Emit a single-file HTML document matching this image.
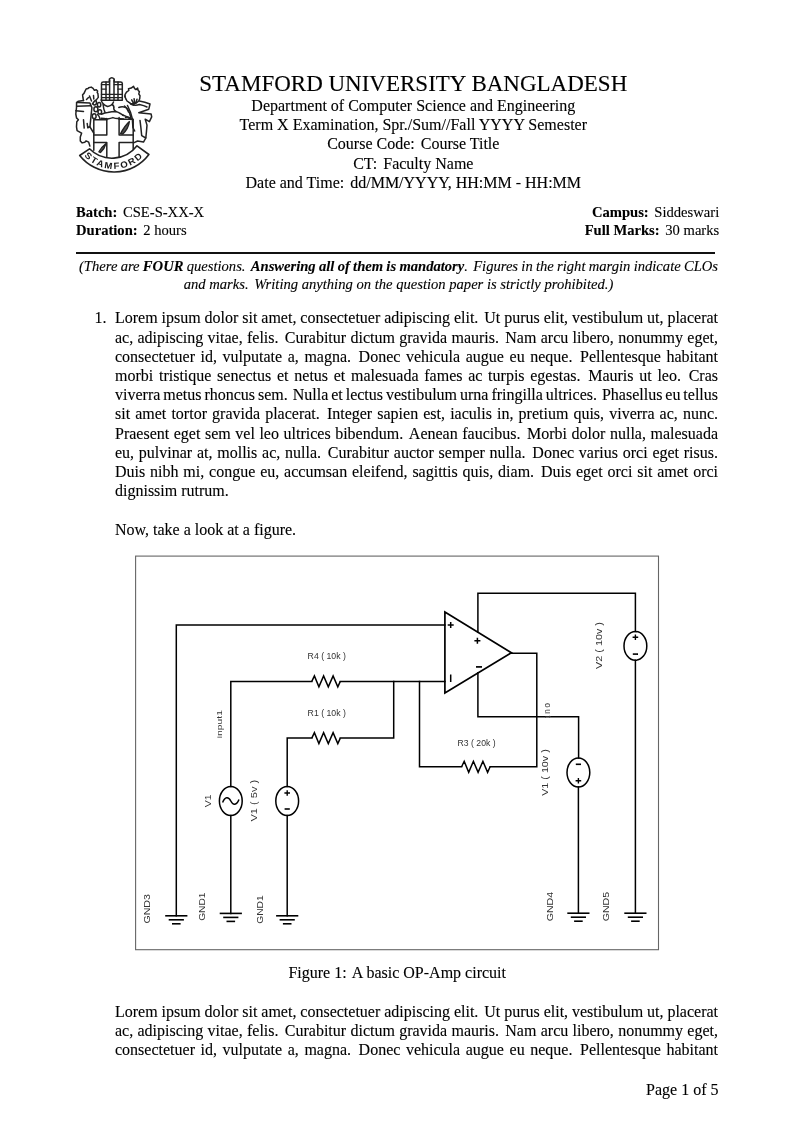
<!DOCTYPE html>
<html>
<head>
<meta charset="utf-8">
<style>
html,body{margin:0;padding:0;background:#fff;}
body{width:794px;height:1123px;position:relative;overflow:hidden;color:#000;-webkit-text-stroke:0.12px #000;font-family:"Liberation Serif",serif;}
.t{position:absolute;white-space:nowrap;font-size:16px;line-height:20px;height:20px;}
.c{text-align:center;}
.s{font-size:14.6px;line-height:18px;height:18px;}
.i{font-style:italic;}
.e{display:inline-block;width:2.0px;}
.k{display:inline-block;width:2px;}
svg{position:absolute;left:0;top:0;will-change:transform;-webkit-text-stroke:0;}
</style>
</head>
<body>
<div id="wrap" style="position:absolute;left:0;top:0;width:794px;height:1123px;will-change:transform;">
<div class="t" style="left:115px;top:308.30px;word-spacing:-0.083px">Lorem ipsum dolor sit amet, consectetuer adipiscing elit.<span class="e"></span> Ut purus elit, vestibulum ut, placerat</div>
<div class="t" style="left:115px;top:327.50px;word-spacing:0.301px">ac, adipiscing vitae, felis.<span class="e"></span> Curabitur dictum gravida mauris.<span class="e"></span> Nam arcu libero, nonummy eget,</div>
<div class="t" style="left:115px;top:346.70px;word-spacing:1.585px">consectetuer id, vulputate a, magna.<span class="e"></span> Donec vehicula augue eu neque.<span class="e"></span> Pellentesque habitant</div>
<div class="t" style="left:115px;top:365.90px;word-spacing:1.717px">morbi tristique senectus et netus et malesuada fames ac turpis egestas.<span class="e"></span> Mauris ut leo.<span class="e"></span> Cras</div>
<div class="t" style="left:115px;top:385.10px;word-spacing:-1.059px">viverra metus rhoncus sem.<span class="e"></span> Nulla et lectus vestibulum urna fringilla ultrices.<span class="e"></span> Phasellus eu tellus</div>
<div class="t" style="left:115px;top:404.40px;word-spacing:1.102px">sit amet tortor gravida placerat.<span class="e"></span> Integer sapien est, iaculis in, pretium quis, viverra ac, nunc.</div>
<div class="t" style="left:115px;top:423.60px;word-spacing:0.559px">Praesent eget sem vel leo ultrices bibendum.<span class="e"></span> Aenean faucibus.<span class="e"></span> Morbi dolor nulla, malesuada</div>
<div class="t" style="left:115px;top:442.80px;word-spacing:0.766px">eu, pulvinar at, mollis ac, nulla.<span class="e"></span> Curabitur auctor semper nulla.<span class="e"></span> Donec varius orci eget risus.</div>
<div class="t" style="left:115px;top:462.00px;word-spacing:0.846px">Duis nibh mi, congue eu, accumsan eleifend, sagittis quis, diam.<span class="e"></span> Duis eget orci sit amet orci</div>
<div class="t" style="left:115px;top:481.20px;">dignissim rutrum.</div>
<div class="t" style="left:115px;top:520.20px;">Now, take a look at a figure.</div>
<div class="t" style="left:115px;top:1001.70px;word-spacing:-0.083px">Lorem ipsum dolor sit amet, consectetuer adipiscing elit.<span class="e"></span> Ut purus elit, vestibulum ut, placerat</div>
<div class="t" style="left:115px;top:1020.80px;word-spacing:0.301px">ac, adipiscing vitae, felis.<span class="e"></span> Curabitur dictum gravida mauris.<span class="e"></span> Nam arcu libero, nonummy eget,</div>
<div class="t" style="left:115px;top:1039.90px;word-spacing:1.585px">consectetuer id, vulputate a, magna.<span class="e"></span> Donec vehicula augue eu neque.<span class="e"></span> Pellentesque habitant</div>
<div class="t s i" style="left:79px;top:257.07px;word-spacing:-0.365px">(There are <b>FOUR</b> questions.<span class="e"></span> <b>Answering all of them is mandatory</b>.<span class="e"></span> Figures in the right margin indicate CLOs</div>
<div class="t s i c" style="left:79px;width:639px;top:275.07px;">and marks.<span class="e"></span> Writing anything on the question paper is strictly prohibited.)</div>
<div class="t" style="left:94.5px;top:308.30px;">1.</div>
<div class="t c" style="left:113.3px;width:600px;top:74.44px;font-size:23px;">STAMFORD UNIVERSITY BANGLADESH</div>
<div class="t c" style="left:113.3px;width:600px;top:96.00px;">Department of Computer Science and Engineering</div>
<div class="t c" style="left:113.3px;width:600px;top:115.20px;">Term X Examination, Spr./Sum//Fall YYYY Semester</div>
<div class="t c" style="left:113.3px;width:600px;top:134.40px;">Course Code:<span class="k"></span> Course Title</div>
<div class="t c" style="left:113.3px;width:600px;top:153.60px;">CT:<span class="k"></span> Faculty Name</div>
<div class="t c" style="left:113.3px;width:600px;top:172.80px;">Date and Time:<span class="k"></span> dd/MM/YYYY, HH:MM - HH:MM</div>
<div class="t s" style="left:76px;top:202.97px;"><b>Batch:</b><span class="k"></span> CSE-S-XX-X</div>
<div class="t s" style="left:76px;top:221.37px;"><b>Duration:</b><span class="k"></span> 2 hours</div>
<div class="t s" style="right:74.8px;top:202.97px;"><b>Campus:</b><span class="k"></span> Siddeswari</div>
<div class="t s" style="right:74.8px;top:221.37px;"><b>Full Marks:</b><span class="k"></span> 30 marks</div>
<div style="position:absolute;left:76px;top:252px;width:639px;height:1.6px;background:#111;"></div>
<div class="t c" style="left:97.2px;width:600px;top:962.90px;">Figure 1:<span class="k"></span> A basic OP-Amp circuit</div>
<div class="t" style="right:75.5px;top:1079.80px;">Page 1 of 5</div>
</div>
<svg width="794" height="1123" viewBox="0 0 794 1123">
<rect x="135.6" y="556.1" width="522.9" height="393.6" fill="none" stroke="#666" stroke-width="1.1"/>
<path d="M444.9 612 L511.4 652.8 L444.9 693 Z" fill="none" stroke="#000" stroke-width="1.7" stroke-linejoin="miter"/>
<path d="M176.3 915.8 L176.3 625.1 L444.9 625.1" fill="none" stroke="#000" stroke-width="1.5" stroke-linejoin="miter" stroke-linecap="square"/>
<path d="M165.2 915.8 H187.4" stroke="#000" stroke-width="1.6"/>
<path d="M168.7 919.8 H183.9" stroke="#000" stroke-width="1.6"/>
<path d="M172.0 923.8 H180.6" stroke="#000" stroke-width="1.6"/>
<path d="M230.8 786.6 L230.8 681.4 L311.8 681.4" fill="none" stroke="#000" stroke-width="1.5" stroke-linejoin="miter" stroke-linecap="square"/>
<path d="M311.8 681.4 L314.4 675.9 L318.9 686.9 L323.6 675.9 L328.3 686.9 L333.1 675.9 L337.8 686.9 L340.3 681.4" fill="none" stroke="#000" stroke-width="1.5" stroke-linejoin="miter"/>
<path d="M340.3 681.4 L444.9 681.4" fill="none" stroke="#000" stroke-width="1.5" stroke-linejoin="miter" stroke-linecap="square"/>
<path d="M230.8 815.4 L230.8 913.4" fill="none" stroke="#000" stroke-width="1.5" stroke-linejoin="miter" stroke-linecap="square"/>
<path d="M219.7 913.4 H241.9" stroke="#000" stroke-width="1.6"/>
<path d="M223.2 917.4 H238.4" stroke="#000" stroke-width="1.6"/>
<path d="M226.5 921.4 H235.1" stroke="#000" stroke-width="1.6"/>
<ellipse cx="230.8" cy="801.0" rx="11.4" ry="14.4" fill="none" stroke="#000" stroke-width="1.5"/>
<path d="M222.6 802.5 C225 796.5 228.5 796.5 230.8 801 C233 805.5 236.6 805.5 239 799.5" fill="none" stroke="#000" stroke-width="1.5"/>
<path d="M287.2 786.6 L287.2 738.1 L311.8 738.1" fill="none" stroke="#000" stroke-width="1.5" stroke-linejoin="miter" stroke-linecap="square"/>
<path d="M311.8 738.1 L314.4 732.6 L318.9 743.6 L323.6 732.6 L328.3 743.6 L333.1 732.6 L337.8 743.6 L340.3 738.1" fill="none" stroke="#000" stroke-width="1.5" stroke-linejoin="miter"/>
<path d="M340.3 738.1 L393.7 738.1 L393.7 681.4" fill="none" stroke="#000" stroke-width="1.5" stroke-linejoin="miter" stroke-linecap="square"/>
<path d="M287.2 815.4 L287.2 915.8" fill="none" stroke="#000" stroke-width="1.5" stroke-linejoin="miter" stroke-linecap="square"/>
<path d="M276.1 915.8 H298.3" stroke="#000" stroke-width="1.6"/>
<path d="M279.6 919.8 H294.8" stroke="#000" stroke-width="1.6"/>
<path d="M282.9 923.8 H291.5" stroke="#000" stroke-width="1.6"/>
<ellipse cx="287.2" cy="801.0" rx="11.4" ry="14.4" fill="none" stroke="#000" stroke-width="1.5"/>
<path d="M284.4 793.0 H290.0 M287.2 790.2 V795.8" stroke="#000" stroke-width="1.4"/>
<path d="M284.6 809.0 H289.8" stroke="#000" stroke-width="1.6"/>
<path d="M419.5 681.4 L419.5 766.8 L461.6 766.8" fill="none" stroke="#000" stroke-width="1.5" stroke-linejoin="miter" stroke-linecap="square"/>
<path d="M461.6 766.8 L464.2 761.3 L468.7 772.3 L473.4 761.3 L478.1 772.3 L482.9 761.3 L487.6 772.3 L490.1 766.8" fill="none" stroke="#000" stroke-width="1.5" stroke-linejoin="miter"/>
<path d="M490.1 766.8 L536.8 766.8 L536.8 653.3 L511.4 653.3" fill="none" stroke="#000" stroke-width="1.5" stroke-linejoin="miter" stroke-linecap="square"/>
<path d="M477.9 632.2 L477.9 593.2 L635.4 593.2 L635.4 631.5" fill="none" stroke="#000" stroke-width="1.5" stroke-linejoin="miter" stroke-linecap="square"/>
<ellipse cx="635.4" cy="645.9" rx="11.4" ry="14.4" fill="none" stroke="#000" stroke-width="1.5"/>
<path d="M632.6 637.3 H638.2 M635.4 634.5 V640.1" stroke="#000" stroke-width="1.4"/>
<path d="M632.8 654.1 H638.0" stroke="#000" stroke-width="1.6"/>
<path d="M635.4 660.3 L635.4 913.2" fill="none" stroke="#000" stroke-width="1.5" stroke-linejoin="miter" stroke-linecap="square"/>
<path d="M624.3 913.2 H646.5" stroke="#000" stroke-width="1.6"/>
<path d="M627.8 917.2 H643.0" stroke="#000" stroke-width="1.6"/>
<path d="M631.1 921.2 H639.7" stroke="#000" stroke-width="1.6"/>
<path d="M477.9 672.8 L477.9 716.8 L578.6 716.8 L578.6 758.1" fill="none" stroke="#000" stroke-width="1.5" stroke-linejoin="miter" stroke-linecap="square"/>
<ellipse cx="578.4" cy="772.5" rx="11.4" ry="14.4" fill="none" stroke="#000" stroke-width="1.5"/>
<path d="M575.8 764.3 H581.0" stroke="#000" stroke-width="1.6"/>
<path d="M575.6 780.7 H581.2 M578.4 777.9 V783.5" stroke="#000" stroke-width="1.4"/>
<path d="M578.4 786.9 L578.4 913.2" fill="none" stroke="#000" stroke-width="1.5" stroke-linejoin="miter" stroke-linecap="square"/>
<path d="M567.3 913.2 H589.5" stroke="#000" stroke-width="1.6"/>
<path d="M570.8 917.2 H586.0" stroke="#000" stroke-width="1.6"/>
<path d="M574.1 921.2 H582.7" stroke="#000" stroke-width="1.6"/>
<path d="M447.7 625.0 H453.7 M450.7 622.0 V628.0" stroke="#000" stroke-width="1.5"/>
<path d="M450.7 674.5 V682" stroke="#000" stroke-width="1.5"/>
<path d="M474.4 640.8 H480.4 M477.4 637.8 V643.8" stroke="#000" stroke-width="1.5"/>
<path d="M476.0 666.9 H482.0" stroke="#000" stroke-width="1.7"/>
<text x="307.6" y="659.4" font-family="Liberation Sans" font-size="9.4" fill="#333" textLength="38.3" lengthAdjust="spacingAndGlyphs">R4 ( 10k )</text>
<text x="307.6" y="715.8" font-family="Liberation Sans" font-size="9.4" fill="#333" textLength="38.3" lengthAdjust="spacingAndGlyphs">R1 ( 10k )</text>
<text x="457.6" y="745.9" font-family="Liberation Sans" font-size="9.4" fill="#333" textLength="38.0" lengthAdjust="spacingAndGlyphs">R3 ( 20k )</text>
<text transform="translate(222.0 738.2) rotate(-90)" font-family="Liberation Sans" font-size="8.0" fill="#333" textLength="28.2" lengthAdjust="spacingAndGlyphs">input1</text>
<text transform="translate(211.2 807.3) rotate(-90)" font-family="Liberation Sans" font-size="8.4" fill="#333" textLength="12.8" lengthAdjust="spacingAndGlyphs">V1</text>
<text transform="translate(257.3 821.6) rotate(-90)" font-family="Liberation Sans" font-size="8.4" fill="#333" textLength="41.8" lengthAdjust="spacingAndGlyphs">V1 ( 5v )</text>
<text transform="translate(602.4 668.9) rotate(-90)" font-family="Liberation Sans" font-size="8.4" fill="#333" textLength="46.8" lengthAdjust="spacingAndGlyphs">V2 ( 10v )</text>
<text transform="translate(547.9 795.8) rotate(-90)" font-family="Liberation Sans" font-size="8.4" fill="#333" textLength="46.6" lengthAdjust="spacingAndGlyphs">V1 ( 10v )</text>
<text transform="translate(150.2 923.6) rotate(-90)" font-family="Liberation Sans" font-size="8.4" fill="#333" textLength="29.5" lengthAdjust="spacingAndGlyphs">GND3</text>
<text transform="translate(204.8 920.8) rotate(-90)" font-family="Liberation Sans" font-size="8.4" fill="#333" textLength="28.2" lengthAdjust="spacingAndGlyphs">GND1</text>
<text transform="translate(262.9 923.8) rotate(-90)" font-family="Liberation Sans" font-size="8.4" fill="#333" textLength="28.4" lengthAdjust="spacingAndGlyphs">GND1</text>
<text transform="translate(553.0 921.3) rotate(-90)" font-family="Liberation Sans" font-size="8.4" fill="#333" textLength="29.5" lengthAdjust="spacingAndGlyphs">GND4</text>
<text transform="translate(609.0 921.3) rotate(-90)" font-family="Liberation Sans" font-size="8.4" fill="#333" textLength="29.5" lengthAdjust="spacingAndGlyphs">GND5</text>
<text transform="translate(545.4 702.9) rotate(90)" font-family="Liberation Sans" font-size="8.4" fill="#333" textLength="15" lengthAdjust="spacing">out</text>
</svg>
<svg width="794" height="1123" viewBox="0 0 794 1123">
<g fill="none" stroke="#222" stroke-width="1.5" stroke-linejoin="round" stroke-linecap="round">
<!-- crown / portcullis -->
<path d="M101.5 100.3 V83.5 Q101.6 81.9 103.2 81.9 H109.4 V79 Q111.8 76.4 114.2 79 V81.9 H120.6 Q122.3 81.9 122.3 83.5 V100.3 Z" fill="#fff"/>
<path d="M106 82 V100.3 M109.6 80 V100.3 M114 80 V100.3 M118 82 V100.3" stroke-width="1.5"/>
<path d="M101.5 84.6 H109.4 M114.2 84.6 H122.3 M101.5 94.4 H122.3 M101.5 97.6 H122.3" stroke-width="1.4"/>
<path d="M101.5 89.2 H106 M118 89.2 H122.3" stroke-width="1.2"/>
<!-- helmet under crown -->
<path d="M101.1 99.9 Q102 104.5 107.6 106.5 Q112.2 105.5 113.5 101.9"/>
<path d="M112.2 104.5 Q114.5 106 113.8 109 Q114.5 111 116 111.5 M103.1 104.5 Q103.5 109 105 112.4"/>
<path d="M118.8 107.5 Q122 106 126 107.5 Q128.8 109.5 129.9 114.3 L131.2 118.8 M122.7 115 Q126.5 116.5 131 118.5"/>
<path d="M124.7 96 Q126 99 126.6 99.9 Q129 102.5 133.8 105.2"/>
<!-- torse band -->
<path d="M101.5 114.2 Q105 112.6 107.6 112.4 Q112 111.6 115.5 111.4 Q118 111.8 119.4 113 Q121.5 114 123.2 115.4 M101.1 118.3 Q104 118.7 107.6 118.9 Q110.5 118.3 112.9 117.6 Q115.5 118.4 117.5 118.6 Q120.5 118.9 123.4 118.9"/>
<!-- wreath loops left -->
<ellipse cx="94.6" cy="102.6" rx="1.9" ry="2.4"/>
<ellipse cx="99.1" cy="104.7" rx="1.7" ry="2.2"/>
<ellipse cx="95.9" cy="109.3" rx="2" ry="2.5"/>
<ellipse cx="99.8" cy="111.9" rx="1.8" ry="2.2"/>
<ellipse cx="94.2" cy="116.2" rx="1.9" ry="2.4"/>
<path d="M97.5 114.5 Q99.5 116 100 119"/>
<!-- left leaf -->
<path d="M83.5 100.6 L82.9 97.5 L82.6 94.8 L84 93.4 L84.8 91.6 L86.1 89 L88 88.6 L88.7 87.8 L91.2 87.1 L93.1 88.4 L94.4 90.3 L96.3 89.7 L97.6 91 L97.2 92.6 L97.9 93.5 L98.3 97.4 L96.3 99.9 L94.4 101.2 L92.5 103.8" fill="#fff"/>
<path d="M89.5 96 L91.5 101 M86.5 99.5 L88.5 97.5 M93.5 95.5 L93.8 99"/>
<!-- left mantling -->
<path d="M83.5 100.6 L78.4 101.2 L76.6 102.5 L76.5 107.6 L75.8 114 L76.5 117.9 L78.4 119.8 L76.8 121.7 L76.5 126.8 L77.1 130.7 L81.6 133.2 L80.3 137.1 L80.3 140.9 L82.2 142.9 L84.8 142.2 L86.1 140.9 L88.7 142.2 L89.9 146.1"/>
<path d="M76.6 102.5 Q83 102.4 89.9 103.1 L91.9 107.6 L91.2 114 L90.6 120.4 L89.9 126.8 L93.1 132 L93.8 133.2"/>
<path d="M77.1 106.3 Q84 105.8 90.6 105.7 M75.8 110.8 L83.5 111.5 M83.5 119.8 L84.2 128.1 M87.2 123.5 L87.8 127.8 L89.9 126.8"/>
<!-- right leaf -->
<path d="M130.6 103.4 L127 101 L125.3 97.5 L125 94.6 L126.5 92.2 L128.8 90.5 L128.5 88.7 L131.2 88.1 L133.5 86.3 L134.7 88.7 L135.9 89.6 L137.6 88.1 L138.2 90.5 L139.4 91.6 L138.8 94 L140 95.7 L139.7 98.7 L138.8 101 L136.4 102.8 L133.5 104 Z" fill="#fff"/>
<path d="M134.1 98.7 L134.7 103.4 M131.7 99.8 L133.5 103.4 M137 99.3 L135.9 103"/>
<!-- right mantling -->
<path d="M139.4 101 Q145 101.8 150 104 L148.8 109.2 L138.8 112.8 L151.1 114 L151.7 116.9 L149.4 121.6 L145.2 119.2 L147 125.1 Q146.5 132 145.8 138 L143.5 142.1 L137.6 141 L134.1 142.7"/>
<path d="M127.5 105.5 Q131 112 132.3 118.6 Q132.6 123 132.9 127.5 L134.7 131 M140 120.4 Q141 128 141.7 135.7 L145.8 138 M130.6 104 Q135 106 139.4 104.5 Q144 105.5 147 107"/>
<path d="M124.5 106 Q127 108 128.5 112 M125.5 117.5 Q128.5 116 130 119.5"/>
<!-- shield -->
<path d="M93.8 119.8 H106.8 M119.1 119.2 H133.2 M93.8 119.4 V150.3 M133.2 119.2 V149.3"/>
<path d="M106.8 118.5 V135.1 H93.8 M93.8 142.6 H106.8 V158 M119.1 158 V142.6 H133.2 M133.2 135.1 H119.1 V117.5"/>
<path d="M120.6 133.6 Q124.5 126 129.4 121.6 Q128.5 128.5 122.8 134 Z" fill="#555" stroke-width="1.3"/>
<path d="M98.9 151.8 Q101.5 147 106 143.5 Q104.5 149 100.5 152.5 Z" fill="#555" stroke-width="1.3"/>
<!-- banner -->
<path d="M79.7 155.5 A43.7 43.7 0 0 0 148.9 154.5 L137 145.8 A31.5 31.5 0 0 1 89.5 148.8 Z" fill="#fff" stroke-width="1.6"/>
</g>
<g font-family="Liberation Sans" font-weight="bold" font-size="8.9" fill="#1a1a1a"><text transform="translate(86.45 158.22) rotate(42.53) scale(1.080 1)" text-anchor="middle">S</text><text transform="translate(92.37 162.72) rotate(32.03) scale(1.080 1)" text-anchor="middle">T</text><text transform="translate(99.25 166.16) rotate(21.16) scale(1.080 1)" text-anchor="middle">A</text><text transform="translate(108.06 168.48) rotate(8.27) scale(1.080 1)" text-anchor="middle">M</text><text transform="translate(116.63 168.81) rotate(-3.86) scale(1.080 1)" text-anchor="middle">F</text><text transform="translate(124.83 167.40) rotate(-15.62) scale(1.080 1)" text-anchor="middle">O</text><text transform="translate(133.04 164.11) rotate(-28.13) scale(1.080 1)" text-anchor="middle">R</text><text transform="translate(140.14 159.28) rotate(-40.26) scale(1.080 1)" text-anchor="middle">D</text></g>
</svg>

</body>
</html>
